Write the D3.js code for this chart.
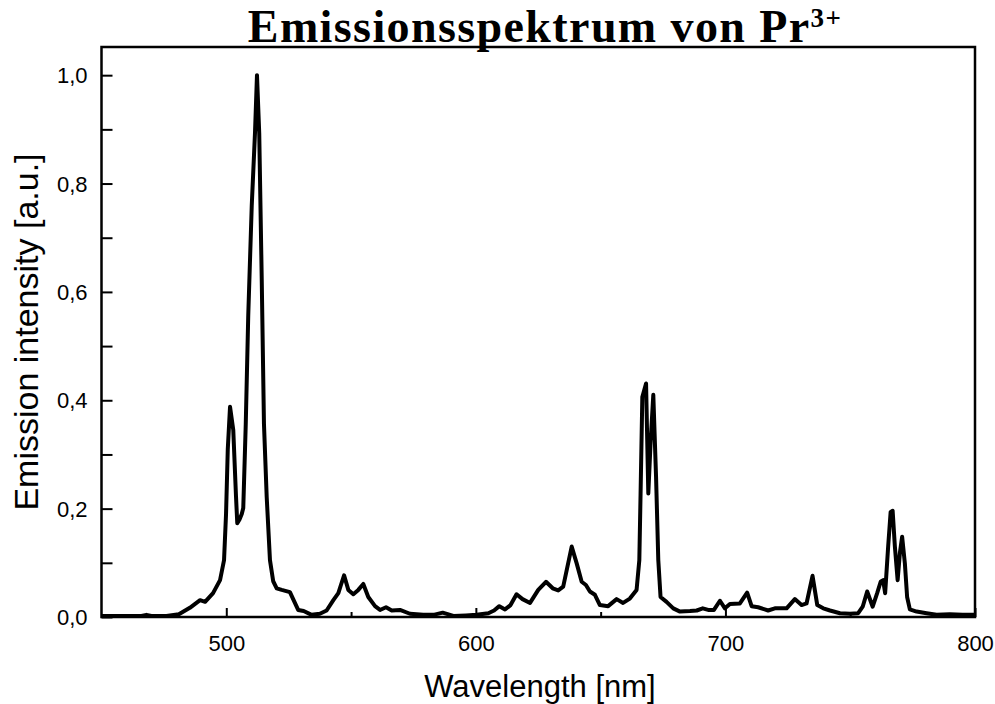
<!DOCTYPE html>
<html>
<head>
<meta charset="utf-8">
<script src="https://cdn.jsdelivr.net/npm/d3@7"></script>
<style>
  html, body { margin: 0; padding: 0; background: #fff; }
  svg { display: block; }
</style>
</head>
<body>
<svg id="chart" width="995" height="704"></svg>
<script>
// ---- Data ----
const wavelengths = [
  450, 460, 466, 468, 470, 476, 481, 485.4, 489.5, 491.5, 494.7, 497.5, 499.1, 499.9, 500.6,
  501.5, 502.8, 503.9, 504.4, 505.3, 506.2, 506.8, 507.8, 508.8, 510.2, 511.5, 512.3, 513.2,
  514.2, 515.1, 516.2, 517.5, 518.8, 520.2, 522.2, 525.5, 526.8, 528.8, 531, 534.2, 537.5,
  540.2, 542.9, 544.9, 546, 547.2, 548.9, 550.9, 552.9, 554.9, 556.9, 559.6, 561.6, 564.0,
  566.3, 569.6, 573.6, 578.9, 583, 586.7, 591, 596, 600.3, 605, 607.3, 609.4, 611.7, 613.9,
  616.3, 618.7, 621.7, 625, 628.1, 630.8, 633, 635, 638.4, 640.4, 642.4, 644.1, 645.7, 647.7,
  649.7, 653, 656.4, 659, 661.7, 664.4, 665.5, 666, 666.7, 668.2, 669.1, 670, 671.1, 672.2,
  673.1, 674, 676.4, 679.1, 681.8, 685.8, 688.5, 690.9, 693.1, 695.4, 697.8, 699.8, 701.8,
  705.8, 708.7, 710.5, 713.1, 717.1, 719.8, 724.5, 727.8, 730.5, 732.5, 734.9, 736.8, 739.2,
  741.9, 745.9, 749.9, 753.2, 755, 756.8, 759, 760.8, 762.2, 763.2, 764, 765.2, 766.2, 767,
  767.9, 769, 769.9, 770.8, 771.9, 772.8, 773.9, 776.6, 780.6, 784.6, 789.9, 795, 800
];
const intensities = [
  0.002, 0.002, 0.002, 0.004, 0.002, 0.002, 0.005, 0.017, 0.031, 0.028, 0.044, 0.068, 0.105, 0.19, 0.31,
  0.388, 0.345, 0.222, 0.173, 0.18, 0.19, 0.201, 0.356, 0.557, 0.759, 0.893, 1.0, 0.893,
  0.624, 0.356, 0.221, 0.105, 0.066, 0.053, 0.050, 0.046, 0.033, 0.013, 0.011, 0.004, 0.006,
  0.012, 0.031, 0.044, 0.060, 0.077, 0.050, 0.042, 0.050, 0.061, 0.037, 0.020, 0.013, 0.018,
  0.012, 0.013, 0.006, 0.004, 0.004, 0.008, 0.002, 0.003, 0.004, 0.007, 0.012, 0.020, 0.014, 0.022,
  0.042, 0.033, 0.026, 0.050, 0.065, 0.053, 0.049, 0.056, 0.130, 0.099, 0.065, 0.059, 0.047, 0.041,
  0.022, 0.020, 0.033, 0.026, 0.034, 0.050, 0.105, 0.228, 0.406, 0.431, 0.228, 0.321, 0.410, 0.259,
  0.105, 0.037, 0.028, 0.016, 0.010, 0.011, 0.012, 0.016, 0.013, 0.013, 0.030, 0.016, 0.024,
  0.025, 0.045, 0.020, 0.018, 0.012, 0.016, 0.016, 0.033, 0.022, 0.025, 0.076, 0.022, 0.016,
  0.012, 0.007, 0.006, 0.007, 0.019, 0.047, 0.019, 0.044, 0.065, 0.068, 0.044, 0.130, 0.194, 0.196,
  0.130, 0.068, 0.118, 0.148, 0.099, 0.037, 0.014, 0.010, 0.007, 0.004, 0.005, 0.004, 0.004
];
const xTicks = [500, 600, 700, 800];
const xMinorTicks = [550, 650, 750];
const yTicks = [0, 0.2, 0.4, 0.6, 0.8, 1.0];
const yMinorTicks = [0.1, 0.3, 0.5, 0.7, 0.9];
const titleMain = "Emissionsspektrum von Pr";
const titleSup = "3+";
const xLabel = "Wavelength [nm]";
const yLabel = "Emission intensity [a.u.]";

// ---- Layout ----
const svg = d3.select("#chart");
const mLeft = 101.5, mRight = 975, mTop = 47, mBottom = 617;
const x = d3.scaleLinear().domain([450, 800]).range([mLeft, mRight]);
const y = d3.scaleLinear().domain([0, 1.052]).range([mBottom, mTop]);
const fmt = d => d3.format(".1f")(d).replace(".", ",");
const sans = "'Liberation Sans', Arial, sans-serif";

// Spectrum line
const data = wavelengths.map((w, i) => [w, intensities[i]]);
svg.append("path")
  .datum(data)
  .attr("fill", "none")
  .attr("stroke", "#000")
  .attr("stroke-width", 4)
  .attr("stroke-linejoin", "round")
  .attr("d", d3.line().x(d => x(d[0])).y(d => y(d[1])));

// Frame
svg.append("rect")
  .attr("x", mLeft).attr("y", mTop)
  .attr("width", mRight - mLeft).attr("height", mBottom - mTop)
  .attr("fill", "none").attr("stroke", "#000").attr("stroke-width", 2.5);

// X axis (ticks inward)
const xAxis = d3.axisBottom(x).tickValues(xTicks).tickSizeInner(-9).tickSizeOuter(0).tickPadding(0).tickFormat(d3.format("d"));
const gx = svg.append("g").attr("transform", `translate(0,${mBottom})`).call(xAxis);
gx.select(".domain").remove();
gx.selectAll(".tick line").attr("stroke-width", 2);
gx.selectAll(".tick text").attr("font-family", sans).attr("font-size", 22).attr("fill", "#000")
  .attr("y", 34).attr("dy", 0);
const xAxisMinor = d3.axisBottom(x).tickValues(xMinorTicks).tickSizeInner(-5).tickSizeOuter(0).tickFormat("");
const gxm = svg.append("g").attr("transform", `translate(0,${mBottom})`).call(xAxisMinor);
gxm.select(".domain").remove();
gxm.selectAll(".tick line").attr("stroke-width", 2);

// Y axis (ticks inward)
const yAxis = d3.axisLeft(y).tickValues(yTicks).tickSizeInner(-11).tickSizeOuter(0).tickPadding(0).tickFormat(fmt);
const gy = svg.append("g").attr("transform", `translate(${mLeft},0)`).call(yAxis);
gy.select(".domain").remove();
gy.selectAll(".tick line").attr("stroke-width", 2);
gy.selectAll(".tick text").attr("font-family", sans).attr("font-size", 22).attr("fill", "#000")
  .attr("x", -14).attr("dy", "0.35em");
const yAxisMinor = d3.axisLeft(y).tickValues(yMinorTicks).tickSizeInner(-11).tickSizeOuter(0).tickFormat("");
const gym = svg.append("g").attr("transform", `translate(${mLeft},0)`).call(yAxisMinor);
gym.select(".domain").remove();
gym.selectAll(".tick line").attr("stroke-width", 2);

// Axis labels
svg.append("text")
  .attr("x", 540).attr("y", 697)
  .attr("text-anchor", "middle")
  .attr("font-family", sans).attr("font-size", 31)
  .text(xLabel);
svg.append("text")
  .attr("transform", `translate(38,${(mTop + mBottom) / 2}) rotate(-90)`)
  .attr("text-anchor", "middle")
  .attr("font-family", sans).attr("font-size", 34)
  .text(yLabel);

// Title
const title = svg.append("text")
  .attr("x", 545).attr("y", 42)
  .attr("text-anchor", "middle")
  .attr("font-family", "'Liberation Serif', 'Times New Roman', serif")
  .attr("font-weight", "bold").attr("font-size", 46)
  .attr("letter-spacing", 1.4);
title.append("tspan").text(titleMain);
title.append("tspan").attr("font-size", 27).attr("dy", -15).text(titleSup);
</script>
</body>
</html>
